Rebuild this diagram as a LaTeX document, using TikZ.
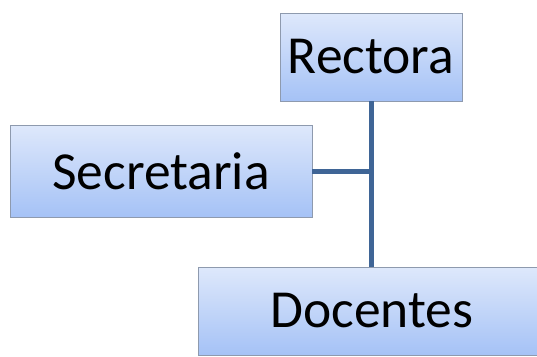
\documentclass[tikz,border=0pt]{standalone}
\usepackage{fontspec}
\setmainfont{Carlito}
\definecolor{linkblue}{HTML}{3F6596}
\definecolor{boxtop}{HTML}{DEE8FB}
\definecolor{boxbottom}{HTML}{A5C2F6}
\definecolor{boxedge}{HTML}{8E9AAE}
\tikzset{
  orgbox/.style={rectangle, draw=boxedge, line width=0.8pt,
    top color=boxtop, bottom color=boxbottom,
    inner sep=0pt, font=\fontsize{53.5}{62}\selectfont},
  link/.style={draw=linkblue, line width=5pt}
}
\begin{document}
\begin{tikzpicture}[x=1pt, y=-1pt]
  \useasboundingbox (0,0) rectangle (537,356);
  \node[orgbox, minimum width=182pt, minimum height=88pt] (rec) at (371,57) {Rectora};
  \node[orgbox, minimum width=302pt, minimum height=92pt] (sec) at (161,171) {Secretaria};
  \node[orgbox, minimum width=348pt, minimum height=88pt] (doc) at (372,311) {Docentes};
  \draw[link] (rec.south) -- (rec.south |- doc.north);
  \draw[link] (sec.east) -- (sec.east -| rec.south);
\end{tikzpicture}
\end{document}
